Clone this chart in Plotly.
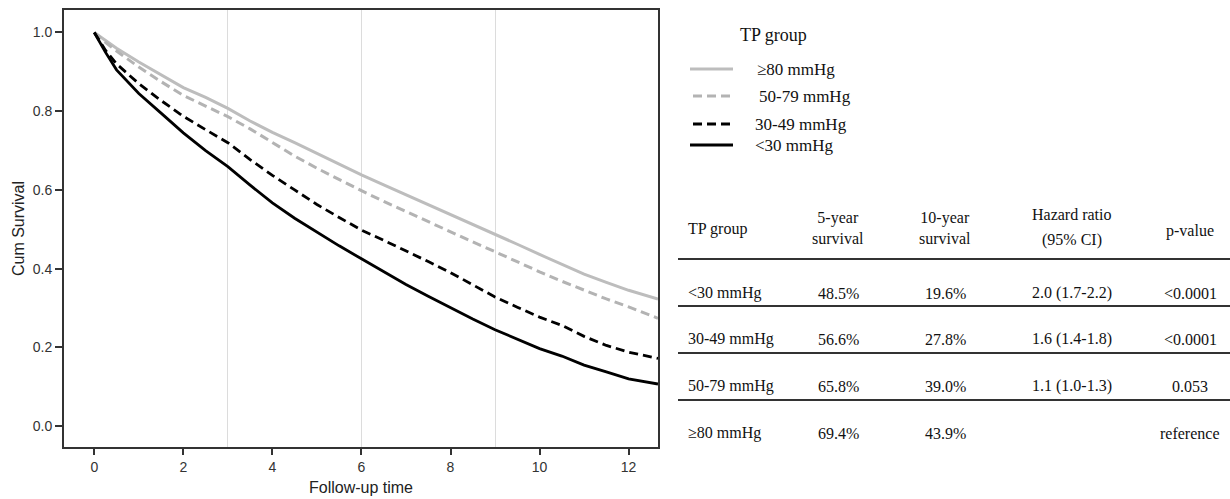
import plotly.graph_objects as go

# ---------------- data ----------------
time_years = [0, 0.25, 0.5, 1, 1.5, 2, 2.5, 3, 3.5, 4, 4.5, 5, 5.5, 6, 6.5, 7,
              7.5, 8, 8.5, 9, 9.5, 10, 10.5, 11, 11.5, 12, 12.66]

surv_ge80 = [1.0, 0.98, 0.96, 0.925, 0.893, 0.86, 0.835, 0.807, 0.775, 0.746, 0.72,
             0.692, 0.665, 0.638, 0.613, 0.588, 0.563, 0.538, 0.513, 0.489, 0.462,
             0.436, 0.41, 0.386, 0.365, 0.345, 0.323]
surv_50_79 = [1.0, 0.975, 0.953, 0.912, 0.875, 0.84, 0.813, 0.786, 0.755, 0.72, 0.686,
              0.655, 0.626, 0.598, 0.571, 0.545, 0.518, 0.494, 0.468, 0.443, 0.417,
              0.392, 0.368, 0.345, 0.323, 0.303, 0.274]
surv_30_49 = [1.0, 0.955, 0.92, 0.87, 0.827, 0.787, 0.753, 0.72, 0.677, 0.637, 0.6,
              0.563, 0.53, 0.498, 0.472, 0.446, 0.418, 0.39, 0.358, 0.328, 0.302,
              0.277, 0.256, 0.228, 0.205, 0.188, 0.172]
surv_lt30 = [1.0, 0.95, 0.905, 0.845, 0.795, 0.745, 0.70, 0.659, 0.612, 0.567, 0.528,
             0.492, 0.458, 0.425, 0.392, 0.36, 0.33, 0.3, 0.272, 0.245, 0.22,
             0.197, 0.178, 0.155, 0.138, 0.12, 0.107]

group_labels = ["≥80 mmHg", "50-79 mmHg", "30-49 mmHg", "<30 mmHg"]

x_ticks = [0, 2, 4, 6, 8, 10, 12]
y_ticks = [0.0, 0.2, 0.4, 0.6, 0.8, 1.0]
y_tick_text = ["0.0", "0.2", "0.4", "0.6", "0.8", "1.0"]
grid_x = [3, 6, 9]

table_header = ["TP group", "5-year<br>survival", "10-year<br>survival",
                "Hazard ratio", "p-value"]
table_groups = ["<30 mmHg", "30-49 mmHg", "50-79 mmHg", "≥80 mmHg"]
table_5yr = ["48.5%", "56.6%", "65.8%", "69.4%"]
table_10yr = ["19.6%", "27.8%", "39.0%", "43.9%"]
table_hr = ["2.0 (1.7-2.2)", "1.6 (1.4-1.8)", "1.1 (1.0-1.3)", ""]
table_p = ["<0.0001", "<0.0001", "0.053", "reference"]

# ---------------- styles ----------------
styles = [
    dict(color="#bdbdbd", width=3, dash="solid"),
    dict(color="#b3b3b3", width=3, dash="9px,5px"),
    dict(color="#000000", width=2.8, dash="9px,5px"),
    dict(color="#000000", width=2.8, dash="solid"),
]
series = [surv_ge80, surv_50_79, surv_30_49, surv_lt30]

W, H = 1230, 499
L, R_PLOT, T, B = 64, 658, 10, 447


def px(xp):
    return (xp - L) / (W - L)


def py(yp):
    return (B - yp) / (B - T)


fig = go.Figure()
for name, ys, st in zip(group_labels, series, styles):
    fig.add_trace(go.Scatter(x=time_years, y=ys, mode="lines", name=name,
                             line=st, showlegend=False, hoverinfo="skip"))

serif = "Liberation Serif, Times New Roman, serif"
sans = "Arial, Liberation Sans, sans-serif"
axis_font = dict(family=sans, size=14, color="#333")

fig.update_layout(
    width=W, height=H,
    margin=dict(l=L, r=0, t=T, b=H - B),
    paper_bgcolor="white", plot_bgcolor="white",
    xaxis=dict(domain=[0, (R_PLOT - L) / (W - L)], range=[-0.68, 12.66],
               tickvals=x_ticks, ticks="outside", ticklen=6, tickwidth=2,
               tickcolor="#333", showline=True, linecolor="#333", linewidth=2,
               mirror=True, showgrid=False, zeroline=False, tickfont=axis_font,
               title=dict(text="Follow-up time", font=dict(family=sans, size=16, color="#222"), standoff=8),
               minor=dict(tickvals=grid_x, showgrid=True, gridcolor="#dcdcdc",
                          gridwidth=1, ticks="")),
    yaxis=dict(range=[-0.053, 1.057], tickvals=y_ticks, ticktext=y_tick_text,
               ticks="outside", ticklen=7, tickwidth=2, tickcolor="#333",
               showline=True, linecolor="#333", linewidth=2, mirror=True,
               showgrid=False, zeroline=False, tickfont=axis_font,
               title=dict(text="Cum Survival", font=dict(family=sans, size=16, color="#222"), standoff=4)),
)

# ---------------- legend (manual) ----------------
fig.add_annotation(x=px(738), y=py(35), xref="paper", yref="paper",
                   text="TP group", showarrow=False, xanchor="left",
                   yanchor="middle", font=dict(family=serif, size=18, color="#111"))
leg_y = [69, 96, 124, 145]
leg_x0 = [690, 693, 693, 690]
leg_tx = [755, 757, 753, 753]
for lab, st, yy, x0, tx in zip(group_labels, styles, leg_y, leg_x0, leg_tx):
    fig.add_shape(type="line", xref="paper", yref="paper",
                  x0=px(x0), x1=px(733), y0=py(yy), y1=py(yy),
                  line=dict(color=st["color"], width=st["width"], dash=st["dash"]))
    fig.add_annotation(x=px(tx), y=py(yy), xref="paper", yref="paper", text=lab,
                       showarrow=False, xanchor="left", yanchor="middle",
                       font=dict(family=serif, size=17, color="#111"))

# ---------------- table ----------------
tfont = dict(family=serif, size=16, color="#111")
col_x = [686, 838, 945, 1072, 1190]
col_anchor = ["left", "center", "center", "center", "center"]
header_y = [229, 228, 228, None, 231]
for i, h in enumerate(table_header):
    if h == "Hazard ratio":
        fig.add_annotation(x=px(col_x[i]), y=py(214), xref="paper", yref="paper",
                           text="Hazard ratio", showarrow=False, xanchor="center",
                           yanchor="middle", font=tfont)
        fig.add_annotation(x=px(col_x[i]), y=py(240), xref="paper", yref="paper",
                           text="(95% CI)", showarrow=False, xanchor="center",
                           yanchor="middle", font=tfont)
    else:
        fig.add_annotation(x=px(col_x[i]), y=py(header_y[i]), xref="paper",
                           yref="paper", text=h, showarrow=False,
                           xanchor=col_anchor[i], yanchor="middle", font=tfont)

row_y = [293, 339, 386, 433]
line_y = [259, 306, 353, 400]
for yy in line_y:
    fig.add_shape(type="line", xref="paper", yref="paper", x0=px(678), x1=1,
                  y0=py(yy), y1=py(yy), line=dict(color="#333", width=2))

for r in range(4):
    vals = [table_groups[r], table_5yr[r], table_10yr[r], table_hr[r], table_p[r]]
    for i, v in enumerate(vals):
        if not v:
            continue
        fig.add_annotation(x=px(col_x[i]), y=py(row_y[r]), xref="paper",
                           yref="paper", text=v, showarrow=False,
                           xanchor=col_anchor[i], yanchor="middle", font=tfont)

fig.write_html("out.html")
